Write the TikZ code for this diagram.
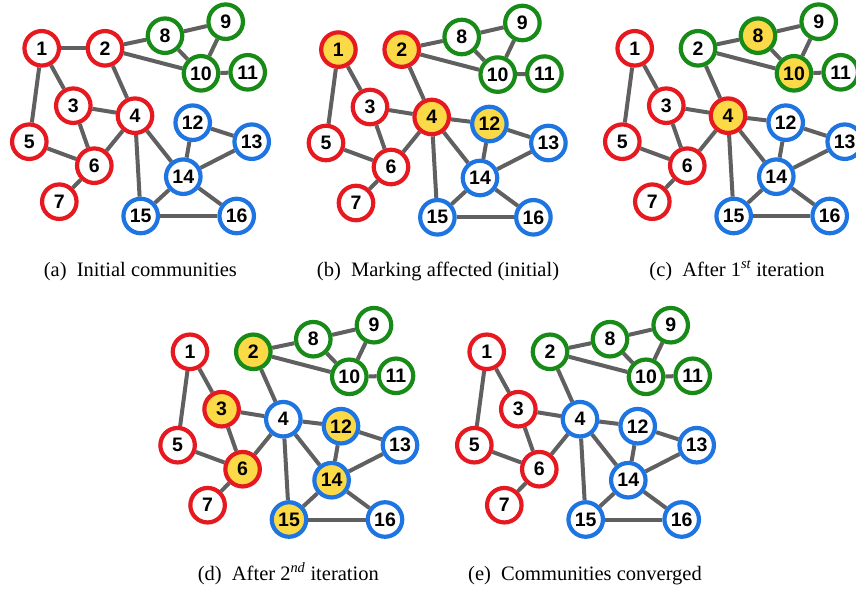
\documentclass[tikz,border=0pt]{standalone}
\usepackage{fontspec}
\setmainfont{Liberation Serif}
\newfontfamily\nodefont[UprightFont=* Bold]{Liberation Sans}
\usetikzlibrary{backgrounds}
\definecolor{cred}{HTML}{E5191F}
\definecolor{cgreen}{HTML}{178A17}
\definecolor{cblue}{HTML}{1E74E0}
\definecolor{cyel}{HTML}{FBD947}
\definecolor{cedge}{HTML}{606060}
\tikzset{
  vnode/.style={circle, draw=#1, line width=4.2pt, minimum size=34.5pt, inner sep=0pt,
    fill=white, text=black, font=\nodefont\fontsize{19.5}{19.5}\selectfont},
  hl/.style={fill=cyel},
  nohl/.style={},
  gedge/.style={draw=cedge, line width=4pt},
  captext/.style={anchor=base, inner sep=0pt, font=\fontsize{20.5}{23}\selectfont}
}
\foreach \i/\x/\y in {1/41.7/48.3, 2/105/48.3, 3/73.3/105.7, 4/135/115.7, 5/29.3/141.7,
  6/94.3/165.7, 7/59.3/201.7, 8/165/35.7, 9/225.7/21.7, 10/201/73.3, 11/247.7/72.3,
  12/192.7/122.7, 13/251.7/141.7, 14/183.3/176.7, 15/140.7/216, 16/236.7/216}{%
  \expandafter\xdef\csname vpos\i\endcsname{\x,\y}}
\newcommand\commonedges{1/3,1/5,2/8,2/10,2/4,8/9,8/10,9/10,10/11,3/4,3/6,5/6,4/6,6/7,4/14,4/15,12/14,12/13,13/14,14/15,14/16,15/16}
% #1 prefix, #2 shift, #3 node specs id/colour/fill, #4 extra edge
\newcommand\graphpanel[4]{%
  \begin{scope}[shift={#2}]
    \foreach \i/\c/\f in {#3}{%
      \node[vnode=\c, \f] (#1\i) at (\csname vpos\i\endcsname) {\i};}
    \begin{pgfonlayer}{background}
      \edef\edgelist{\commonedges,#4}
      \foreach \a/\b in \edgelist {\draw[gedge] (#1\a) -- (#1\b);}
    \end{pgfonlayer}
  \end{scope}}
\begin{document}
\begin{tikzpicture}[x=1pt, y=-1pt]
\useasboundingbox (0,0) rectangle (856,589);
% (a)
\graphpanel{a}{(0,0)}{1/cred/nohl,2/cred/nohl,3/cred/nohl,4/cred/nohl,5/cred/nohl,6/cred/nohl,7/cred/nohl,
  8/cgreen/nohl,9/cgreen/nohl,10/cgreen/nohl,11/cgreen/nohl,
  12/cblue/nohl,13/cblue/nohl,14/cblue/nohl,15/cblue/nohl,16/cblue/nohl}{1/2}
% (b)
\graphpanel{b}{(296.7,1.3)}{1/cred/hl,2/cred/hl,3/cred/nohl,4/cred/hl,5/cred/nohl,6/cred/nohl,7/cred/nohl,
  8/cgreen/nohl,9/cgreen/nohl,10/cgreen/nohl,11/cgreen/nohl,
  12/cblue/hl,13/cblue/nohl,14/cblue/nohl,15/cblue/nohl,16/cblue/nohl}{4/12}
% (c)
\graphpanel{c}{(593,0)}{1/cred/nohl,2/cgreen/nohl,3/cred/nohl,4/cred/hl,5/cred/nohl,6/cred/nohl,7/cred/nohl,
  8/cgreen/hl,9/cgreen/nohl,10/cgreen/hl,11/cgreen/nohl,
  12/cblue/nohl,13/cblue/nohl,14/cblue/nohl,15/cblue/nohl,16/cblue/nohl}{4/12}
% (d)
\graphpanel{d}{(148.3,303.5)}{1/cred/nohl,2/cgreen/hl,3/cred/hl,4/cblue/nohl,5/cred/nohl,6/cred/hl,7/cred/nohl,
  8/cgreen/nohl,9/cgreen/nohl,10/cgreen/nohl,11/cgreen/nohl,
  12/cblue/hl,13/cblue/nohl,14/cblue/hl,15/cblue/hl,16/cblue/nohl}{4/12}
% (e)
\graphpanel{e}{(445,303.5)}{1/cred/nohl,2/cgreen/nohl,3/cred/nohl,4/cblue/nohl,5/cred/nohl,6/cred/nohl,7/cred/nohl,
  8/cgreen/nohl,9/cgreen/nohl,10/cgreen/nohl,11/cgreen/nohl,
  12/cblue/nohl,13/cblue/nohl,14/cblue/nohl,15/cblue/nohl,16/cblue/nohl}{4/12}
% captions
\node[captext] (capa) at (140.4,276) {(a)\hspace{0.5em}Initial communities};
\node[captext] (capb) at (438,276) {(b)\hspace{0.5em}Marking affected (initial)};
\node[captext] (capc) at (737,276) {(c)\hspace{0.5em}After 1\textsuperscript{\itshape st} iteration};
\node[captext] (capd) at (288.3,580) {(d)\hspace{0.5em}After 2\textsuperscript{\itshape nd} iteration};
\node[captext] (cape) at (585,580) {(e)\hspace{0.5em}Communities converged};
\end{tikzpicture}
\end{document}
